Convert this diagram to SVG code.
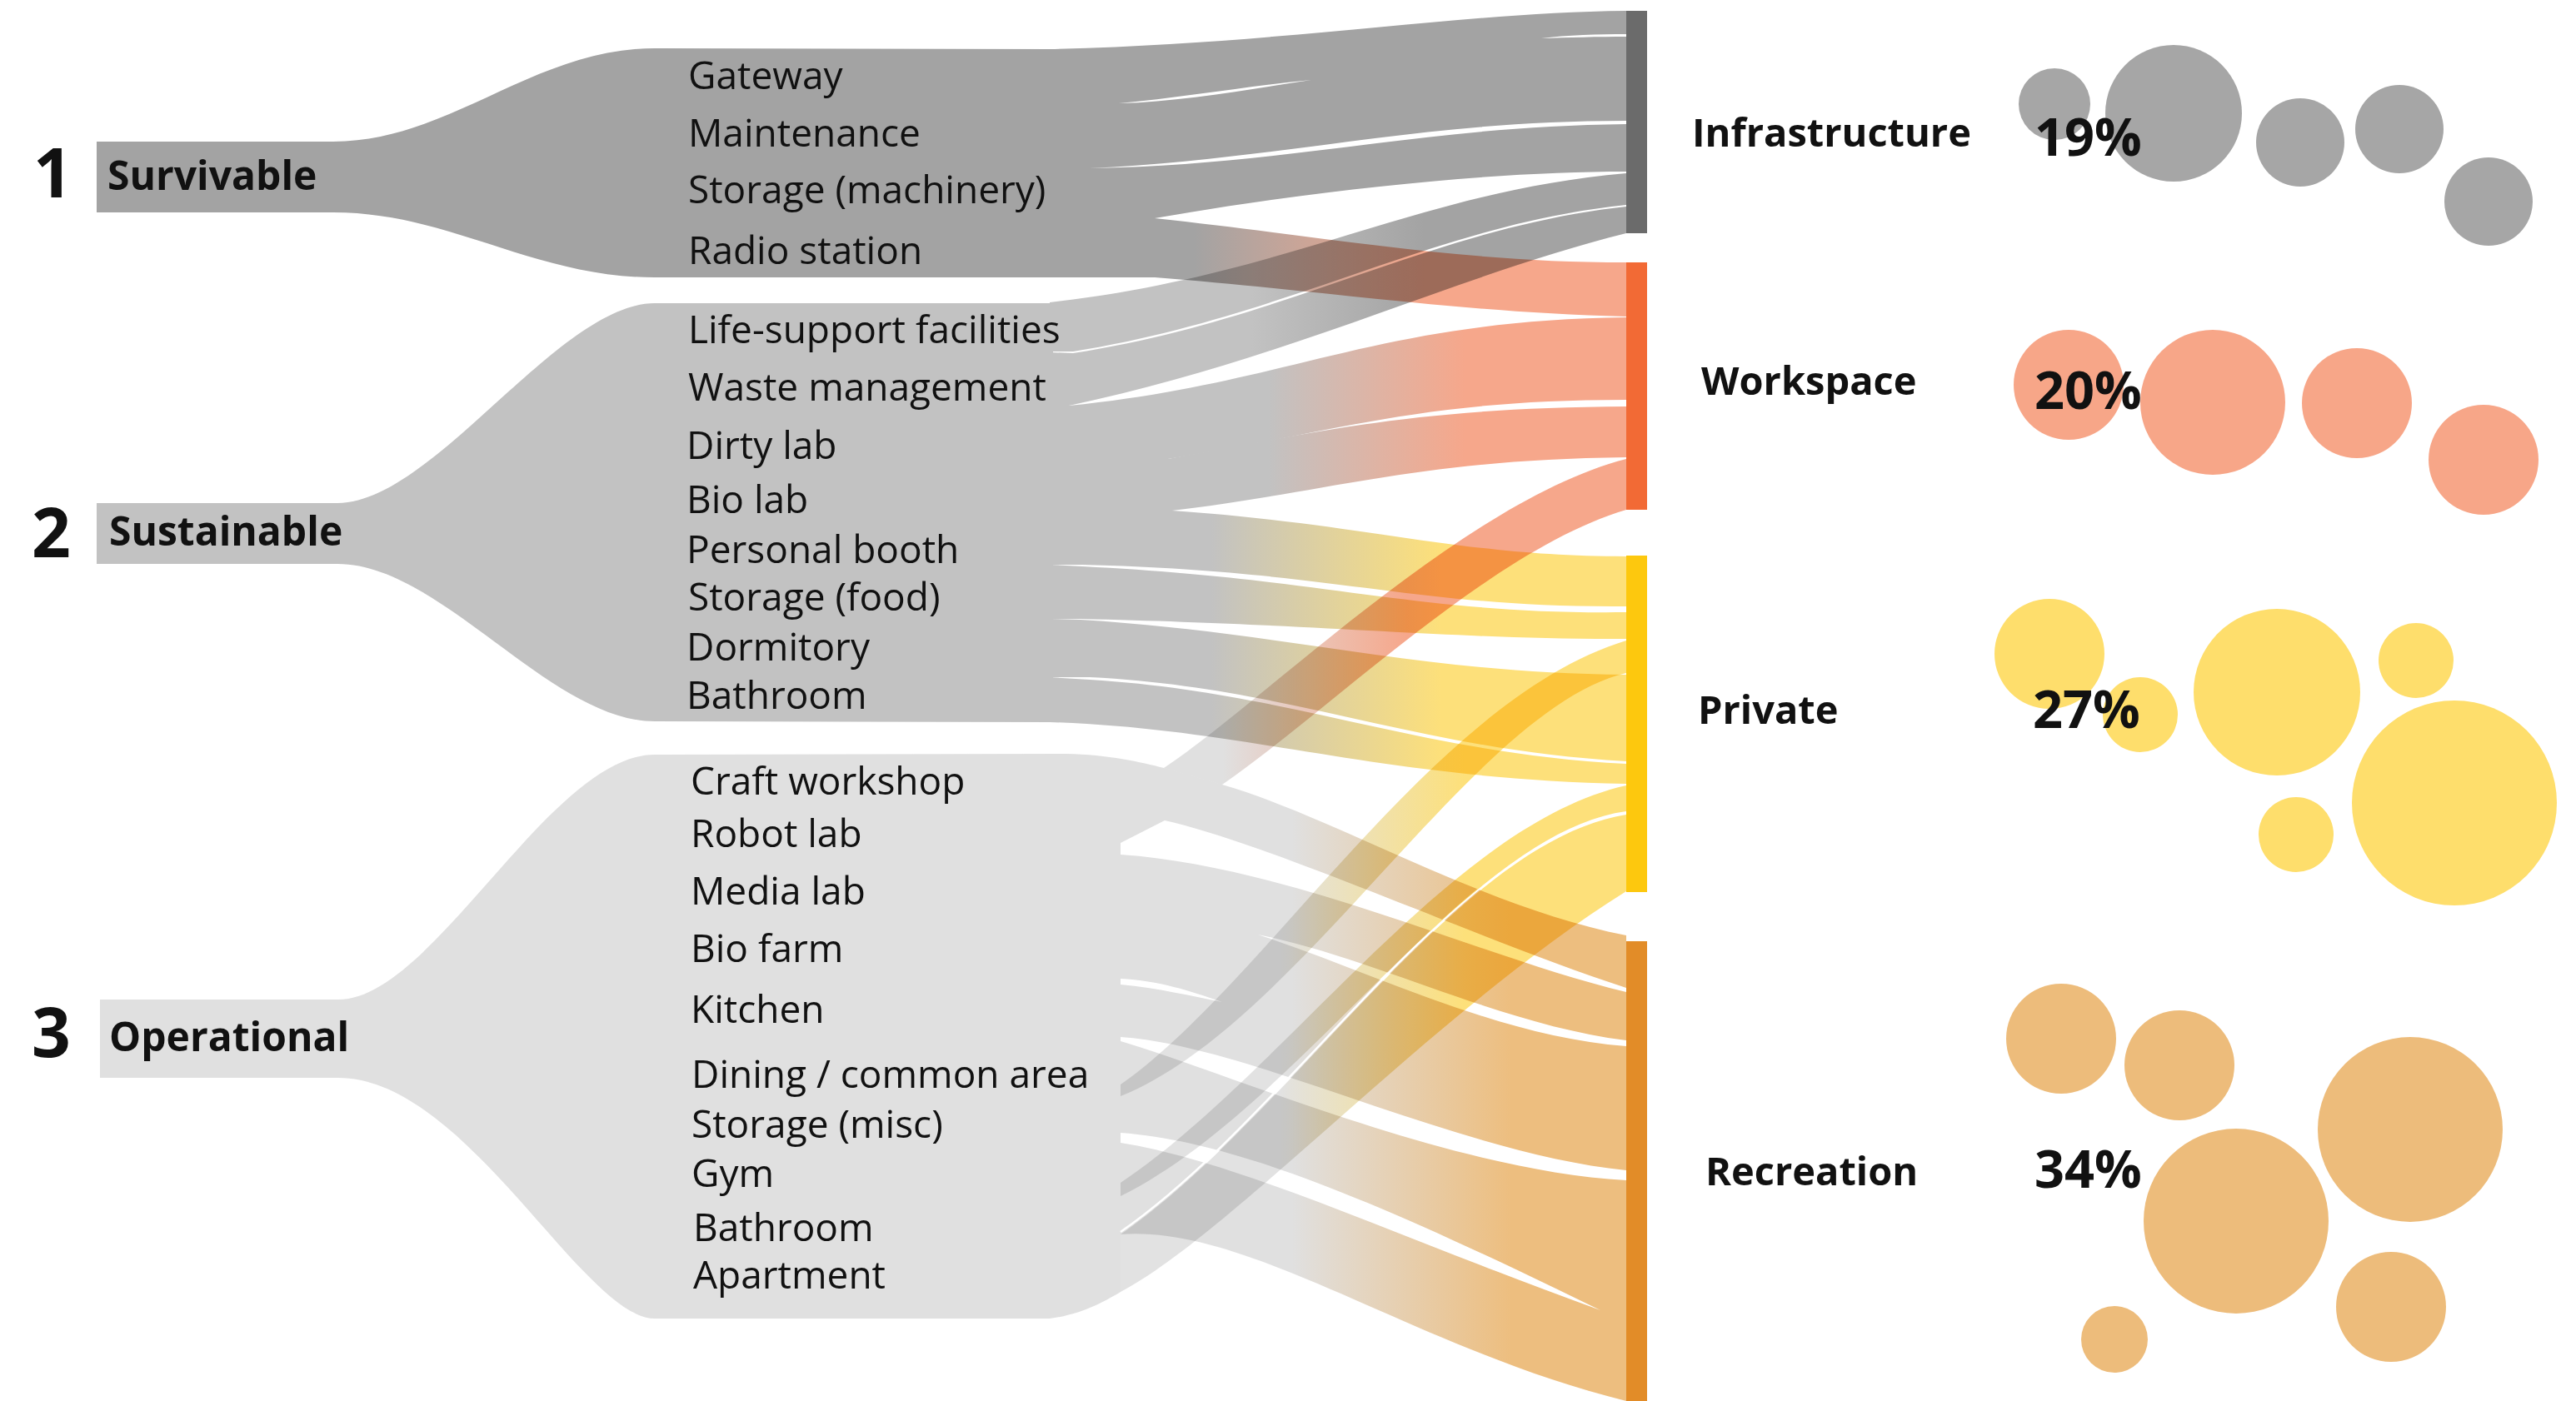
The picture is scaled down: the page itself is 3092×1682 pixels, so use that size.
<svg xmlns="http://www.w3.org/2000/svg" width="3092" height="1682" viewBox="0 0 3092 1682">
<style>
.item{font-family:"Open Sans","Liberation Sans",sans-serif;font-size:46px;fill:#111}
.grp{font-family:"Open Sans","Liberation Sans",sans-serif;font-size:48px;font-weight:700;fill:#111}
.num{font-family:"Open Sans","Liberation Sans",sans-serif;font-size:82px;font-weight:700;fill:#111}
.cat{font-family:"Open Sans","Liberation Sans",sans-serif;font-size:47px;font-weight:700;fill:#111}
.pct{font-family:"Open Sans","Liberation Sans",sans-serif;font-size:63px;font-weight:700;fill:#111}
.mx{mix-blend-mode:multiply}
.slit{fill:#fff}
</style>
<defs>
<linearGradient id="gSI" gradientUnits="userSpaceOnUse" x1="1260" y1="0" x2="1952" y2="0"><stop offset="0.35" stop-color="#c2c2c2"/><stop offset="0.65" stop-color="#a3a3a3"/></linearGradient>
<linearGradient id="gRW" gradientUnits="userSpaceOnUse" x1="1260" y1="0" x2="1952" y2="0"><stop offset="0.25" stop-color="#a3a3a3"/><stop offset="0.65" stop-color="#f6a78b"/></linearGradient>
<linearGradient id="gSW" gradientUnits="userSpaceOnUse" x1="1260" y1="0" x2="1952" y2="0"><stop offset="0.38" stop-color="#c2c2c2"/><stop offset="0.72" stop-color="#f6a78b"/></linearGradient>
<linearGradient id="gSP" gradientUnits="userSpaceOnUse" x1="1260" y1="0" x2="1952" y2="0"><stop offset="0.28" stop-color="#c2c2c2"/><stop offset="0.68" stop-color="#fde07a"/></linearGradient>
<linearGradient id="gOW" gradientUnits="userSpaceOnUse" x1="1260" y1="0" x2="1952" y2="0"><stop offset="0.3" stop-color="#e0e0e0"/><stop offset="0.62" stop-color="#f6a78b"/></linearGradient>
<linearGradient id="gOP" gradientUnits="userSpaceOnUse" x1="1260" y1="0" x2="1952" y2="0"><stop offset="0.4" stop-color="#e2e2e2"/><stop offset="0.72" stop-color="#fde07a"/></linearGradient>
<linearGradient id="gOR" gradientUnits="userSpaceOnUse" x1="1260" y1="0" x2="1952" y2="0"><stop offset="0.42" stop-color="#e0e0e0"/><stop offset="0.8" stop-color="#edbe7f"/></linearGradient>
</defs>

<g id="group-survivable">
<path fill="#a3a3a3" d="M116,170 L400,170 C540,170 640,58 786,58 L1260,59 C1550,52 1750,15 1952,13 L1952,206 C1800,206 1600,225 1386,262 L1386,333 L786,333 C640,333 540,255 400,255 L116,255 Z"/>
</g>
<g id="group-sustainable">
<path fill="#c2c2c2" d="M116,604 L405,604 C520,604 670,364 786,364 L1264,364 L1264,867 L786,866 C660,866 530,677 405,677 L116,677 Z"/>
</g>

<g id="connectors">
<path fill="url(#gSI)" d="M1260,363 C1550,330 1700,230 1952,208 L1952,246 C1720,270 1550,380 1288,422 L1260,422 Z"/>
<path fill="url(#gSI)" d="M1260,423 L1288,424 C1550,383 1720,273 1952,248 L1952,280 C1750,330 1550,430 1283,487 L1260,487 Z"/>
<path fill="url(#gSW)" d="M1260,487 L1283,487 C1550,460 1650,385 1952,381 L1952,480 C1700,480 1600,520 1402,551 L1260,551 Z"/>
<path fill="url(#gSW)" d="M1260,551 L1402,551 C1600,515 1700,490 1952,488 L1952,549 C1700,552 1600,590 1407,613 L1260,613 Z"/>
<path fill="url(#gSP)" d="M1260,613 L1407,613 C1650,630 1750,668 1952,668 L1952,728 C1700,730 1600,685 1299,678 L1260,678 Z"/>
<path fill="url(#gSP)" d="M1260,678 L1299,680 C1600,695 1700,738 1952,735 L1952,767 C1750,768 1600,750 1297,743 L1260,743 Z"/>
<path fill="url(#gSP)" d="M1260,743 L1297,744 C1550,760 1700,808 1952,810 L1952,914 C1700,900 1550,825 1308,813 L1260,813 Z"/>
<path fill="url(#gSP)" d="M1260,813 L1308,816 C1550,831 1700,904 1952,917 L1952,941 C1650,935 1500,875 1260,867 Z"/>

<path id="group-operational-flows" fill="url(#gOR)" d="M120,1200 L406,1200 C520,1200 660,906 786,906 L1280,905 C1330,906 1370,915 1397,922 L1467,942 C1600,980 1780,1090 1952,1123 L1952,1682 C1700,1620 1500,1470 1345,1482 L1345,1551 C1330,1560 1300,1578 1260,1583 L786,1583 C700,1583 560,1294 406,1294 L120,1294 Z"/>

<path class="slit" d="M1850,46 C1880,42 1920,41 1952,41 L1952,44 C1920,44 1880,45 1850,46 Z"/>
<path class="slit" d="M1343,124 C1420,117 1500,103 1574,96 C1500,107 1420,122 1343,124 Z"/>
<path class="slit" d="M1308,202 C1550,190 1700,145 1952,145 L1952,149 C1700,152 1550,198 1308,202 Z"/>
<path class="slit" d="M1345,1012 L1398,985 C1530,1015 1780,1130 1952,1186 L1952,1191 C1780,1150 1550,1040 1345,1026 Z"/>
<path class="slit" d="M1345,1175 C1390,1177 1430,1190 1467,1203 C1430,1196 1390,1186 1345,1182 Z"/>
<path class="slit" d="M1510,1122 C1650,1150 1800,1230 1952,1249 L1952,1256 C1800,1245 1650,1168 1510,1122 Z"/>
<path class="slit" d="M1345,1245 C1500,1255 1750,1385 1952,1405 L1952,1417 C1740,1405 1480,1290 1345,1250 Z"/>
<path class="slit" d="M1345,1360 C1480,1370 1650,1440 1921,1573 C1690,1490 1490,1395 1345,1372 Z"/>
<path fill="none" stroke="#fff" stroke-width="2.5" d="M1345,1479 C1550,1337 1750,1007 1952,975"/>

<path class="mx" fill="url(#gRW)" d="M1386,262 C1600,285 1750,315 1952,315 L1952,380 C1750,375 1600,350 1386,333 Z"/>
<path class="mx" fill="url(#gOW)" d="M1397,922 C1520,840 1760,600 1952,551 L1952,612 C1790,660 1600,850 1467,942 Z"/>
<path class="mx" fill="url(#gOP)" d="M1345,1302 C1520,1180 1720,840 1952,769 L1952,808 C1770,850 1560,1230 1345,1316 Z"/>
<path class="mx" fill="url(#gOP)" d="M1345,1420 C1540,1290 1740,990 1952,943 L1952,974 C1760,1000 1560,1330 1345,1436 Z"/>
<path class="mx" fill="url(#gOP)" d="M1345,1482 C1550,1340 1750,1010 1952,978 L1952,1070 C1720,1215 1480,1480 1345,1551 Z"/>
</g>

<g id="node-infrastructure">
<rect x="1952" y="13" width="25" height="267" fill="#6b6b6b"/>
<text class="cat" x="2031" y="176">Infrastructure</text>
</g>
<g id="node-workspace">
<rect x="1952" y="315" width="25" height="297" fill="#f26a35"/>
<text class="cat" x="2042" y="474">Workspace</text>
</g>
<g id="node-private">
<rect x="1952" y="667" width="25" height="404" fill="#fdc80e"/>
<text class="cat" x="2038" y="869">Private</text>
</g>
<g id="node-recreation">
<rect x="1952" y="1130" width="25" height="552" fill="#e28c28"/>
<text class="cat" x="2047" y="1423">Recreation</text>
</g>

<g id="labels-groups">
<text class="num" x="40" y="237">1</text>
<text class="grp" x="129" y="228">Survivable</text>
<text class="num" x="38" y="669">2</text>
<text class="grp" x="131" y="655">Sustainable</text>
<text class="num" x="38" y="1269">3</text>
<text class="grp" x="131" y="1262">Operational</text>
</g>

<g id="labels-items">
<text class="item" x="826" y="107">Gateway</text>
<text class="item" x="826" y="176">Maintenance</text>
<text class="item" x="826" y="244">Storage (machinery)</text>
<text class="item" x="826" y="317">Radio station</text>
<text class="item" x="826" y="412">Life-support facilities</text>
<text class="item" x="826" y="481">Waste management</text>
<text class="item" x="824" y="551">Dirty lab</text>
<text class="item" x="824" y="616">Bio lab</text>
<text class="item" x="824" y="676">Personal booth</text>
<text class="item" x="826" y="733">Storage (food)</text>
<text class="item" x="824" y="793">Dormitory</text>
<text class="item" x="824" y="851">Bathroom</text>
<text class="item" x="829" y="954">Craft workshop</text>
<text class="item" x="829" y="1017">Robot lab</text>
<text class="item" x="829" y="1086">Media lab</text>
<text class="item" x="829" y="1155">Bio farm</text>
<text class="item" x="829" y="1228">Kitchen</text>
<text class="item" x="830" y="1306">Dining / common area</text>
<text class="item" x="830" y="1366">Storage (misc)</text>
<text class="item" x="830" y="1425">Gym</text>
<text class="item" x="832" y="1490">Bathroom</text>
<text class="item" x="832" y="1547">Apartment</text>
</g>

<g id="bubbles-infrastructure" fill="#a6a6a6">
<circle cx="2466" cy="125" r="43"/>
<circle cx="2609" cy="136" r="82"/>
<circle cx="2761" cy="171" r="53"/>
<circle cx="2880" cy="155" r="53"/>
<circle cx="2987" cy="242" r="53"/>
</g>
<g id="bubbles-workspace" fill="#f7a688">
<circle cx="2483" cy="462" r="66"/>
<circle cx="2656" cy="483" r="87"/>
<circle cx="2829" cy="484" r="66"/>
<circle cx="2981" cy="552" r="66"/>
</g>
<g id="bubbles-private" fill="#fede6c">
<circle cx="2460" cy="785" r="66"/>
<circle cx="2569" cy="858" r="45"/>
<circle cx="2733" cy="831" r="100"/>
<circle cx="2900" cy="793" r="45"/>
<circle cx="2946" cy="964" r="123"/>
<circle cx="2756" cy="1002" r="45"/>
</g>
<g id="bubbles-recreation" fill="#edbc7b">
<circle cx="2474" cy="1247" r="66"/>
<circle cx="2616" cy="1279" r="66"/>
<circle cx="2893" cy="1356" r="111"/>
<circle cx="2684" cy="1466" r="111"/>
<circle cx="2870" cy="1569" r="66"/>
<circle cx="2538" cy="1608" r="40"/>
</g>
<g id="percentages">
<text class="pct" x="2442" y="187">19%</text>
<text class="pct" x="2442" y="491">20%</text>
<text class="pct" x="2440" y="874">27%</text>
<text class="pct" x="2442" y="1426">34%</text>
</g>
</svg>
